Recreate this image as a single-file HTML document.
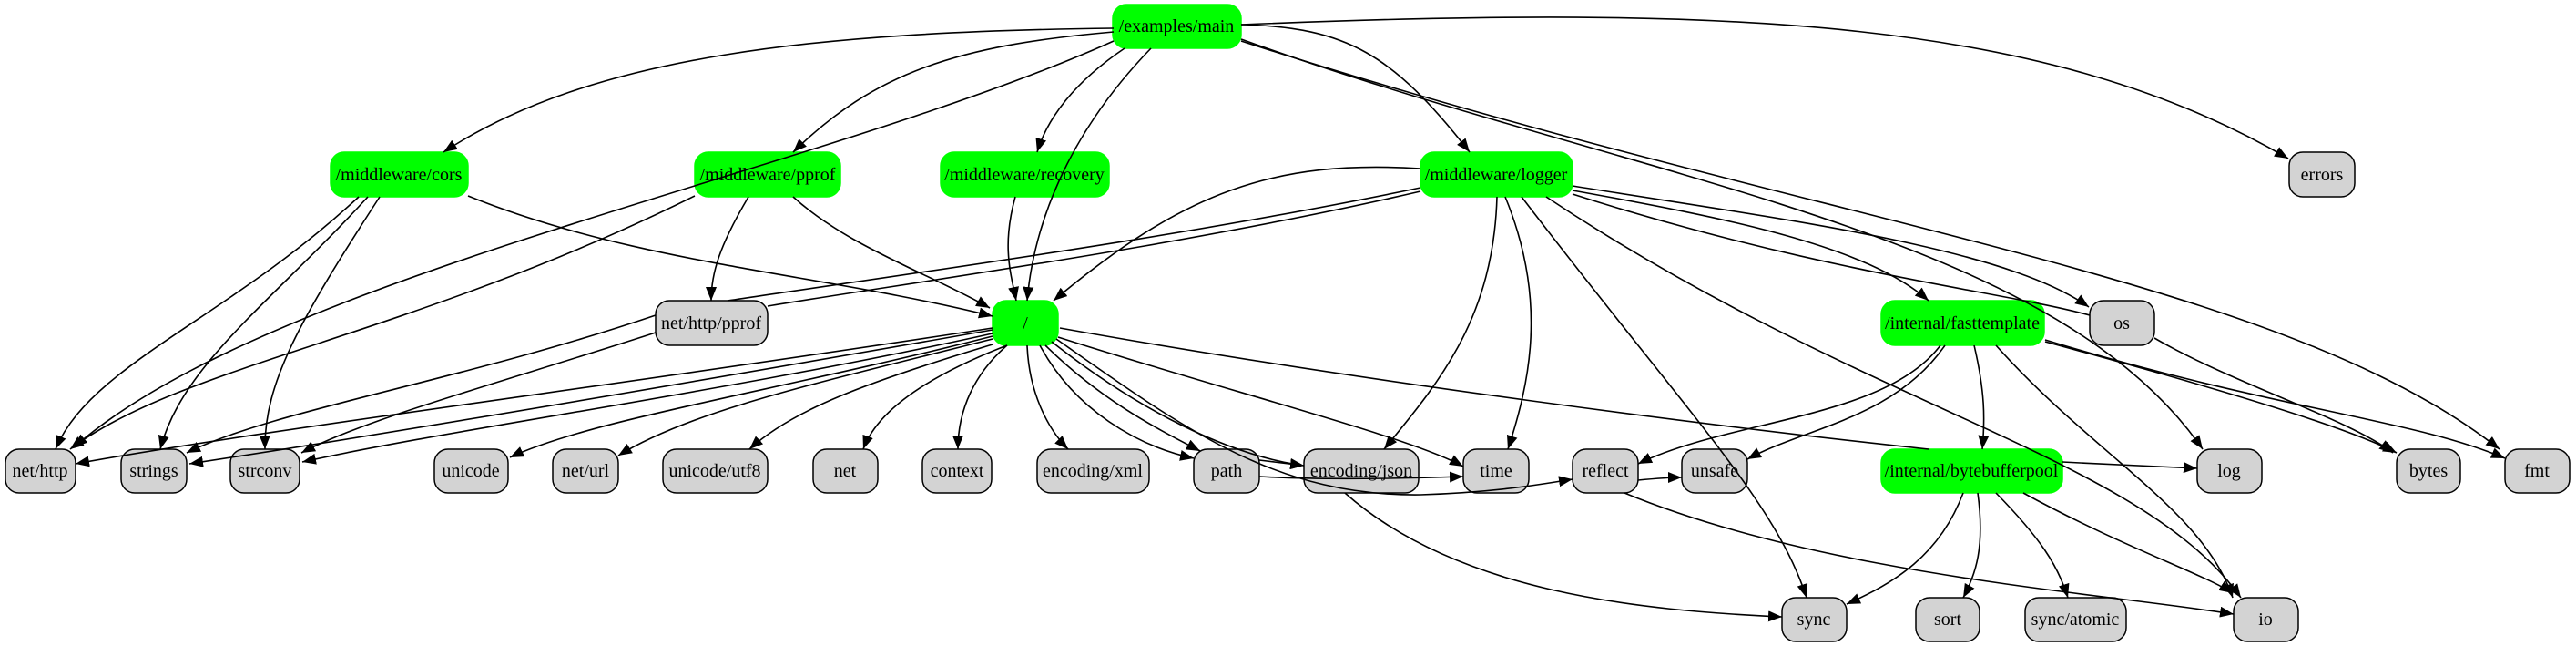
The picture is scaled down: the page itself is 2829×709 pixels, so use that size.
<!DOCTYPE html>
<html><head><meta charset="utf-8"><style>
html,body{margin:0;padding:0;background:#fff;}
svg{display:block;}
text{font-family:"Liberation Serif",serif;font-size:20px;text-anchor:middle;dominant-baseline:central;}
.g{fill:#00ff00;stroke:#00ff00;stroke-width:1.5}
.n{fill:#d3d3d3;stroke:#000;stroke-width:1.5}
.e{fill:none;stroke:#000;stroke-width:1.6;marker-end:url(#a)}
.l{fill:none;stroke:#000;stroke-width:1.6}
</style></head><body>
<svg width="2829" height="709" viewBox="0 0 2829 709" xmlns="http://www.w3.org/2000/svg">
<defs><marker id="a" markerUnits="userSpaceOnUse" markerWidth="16" markerHeight="12" refX="15" refY="6" orient="auto"><path d="M0,0 L15,6 L0,12 Z" fill="#000"/></marker></defs>
<g>
<rect class="g" x="1222" y="5" width="141" height="48" rx="15"/><text x="1292" y="29">/examples/main</text>
<rect class="g" x="363" y="167" width="151" height="49" rx="15"/><text x="438" y="192">/middleware/cors</text>
<rect class="g" x="763" y="167" width="160" height="49" rx="15"/><text x="843" y="192">/middleware/pprof</text>
<rect class="g" x="1033" y="167" width="185" height="49" rx="15"/><text x="1125" y="192">/middleware/recovery</text>
<rect class="g" x="1560" y="167" width="167" height="49" rx="15"/><text x="1643" y="192">/middleware/logger</text>
<rect class="n" x="2514" y="167" width="72" height="49" rx="15"/><text x="2550" y="192">errors</text>
<rect class="n" x="720" y="330" width="123" height="49" rx="15"/><text x="781" y="355">net/http/pprof</text>
<rect class="g" x="1090" y="330" width="72" height="49" rx="15"/><text x="1126" y="355">/</text>
<rect class="g" x="2066" y="330" width="179" height="49" rx="15"/><text x="2155" y="355">/internal/fasttemplate</text>
<rect class="n" x="2295" y="330" width="71" height="49" rx="15"/><text x="2330" y="355">os</text>
<rect class="n" x="6" y="493" width="77" height="48" rx="15"/><text x="44" y="517">net/http</text>
<rect class="n" x="133" y="493" width="72" height="48" rx="15"/><text x="169" y="517">strings</text>
<rect class="n" x="253" y="493" width="76" height="48" rx="15"/><text x="291" y="517">strconv</text>
<rect class="n" x="477" y="493" width="81" height="48" rx="15"/><text x="517" y="517">unicode</text>
<rect class="n" x="607" y="493" width="72" height="48" rx="15"/><text x="643" y="517">net/url</text>
<rect class="n" x="728" y="493" width="115" height="48" rx="15"/><text x="785" y="517">unicode/utf8</text>
<rect class="n" x="893" y="493" width="71" height="48" rx="15"/><text x="928" y="517">net</text>
<rect class="n" x="1013" y="493" width="76" height="48" rx="15"/><text x="1051" y="517">context</text>
<rect class="n" x="1139" y="493" width="123" height="48" rx="15"/><text x="1200" y="517">encoding/xml</text>
<rect class="n" x="1311" y="493" width="72" height="48" rx="15"/><text x="1347" y="517">path</text>
<rect class="n" x="1432" y="493" width="126" height="48" rx="15"/><text x="1495" y="517">encoding/json</text>
<rect class="n" x="1607" y="493" width="72" height="48" rx="15"/><text x="1643" y="517">time</text>
<rect class="n" x="1727" y="493" width="72" height="48" rx="15"/><text x="1763" y="517">reflect</text>
<rect class="n" x="1847" y="493" width="72" height="48" rx="15"/><text x="1883" y="517">unsafe</text>
<rect class="g" x="2066" y="493" width="199" height="48" rx="15"/><text x="2165" y="517">/internal/bytebufferpool</text>
<rect class="n" x="2413" y="493" width="71" height="48" rx="15"/><text x="2448" y="517">log</text>
<rect class="n" x="2632" y="493" width="70" height="48" rx="15"/><text x="2667" y="517">bytes</text>
<rect class="n" x="2751" y="493" width="71" height="48" rx="15"/><text x="2786" y="517">fmt</text>
<rect class="n" x="1957" y="656" width="71" height="48" rx="15"/><text x="1992" y="680">sync</text>
<rect class="n" x="2104" y="656" width="70" height="48" rx="15"/><text x="2139" y="680">sort</text>
<rect class="n" x="2224" y="656" width="111" height="48" rx="15"/><text x="2279" y="680">sync/atomic</text>
<rect class="n" x="2453" y="656" width="71" height="48" rx="15"/><text x="2488" y="680">io</text>
</g>
<g>
<path class="e" d="M1223,31 C900,35 650,60 487,167"/>
<path class="e" d="M1223,45 C900,190 300,300 81,491"/>
<path class="e" d="M1223,35 C1050,50 960,80 871,167"/>
<path class="e" d="M1235,53 C1180,90 1150,130 1139,167"/>
<path class="e" d="M1264,53 C1170,150 1135,250 1128,330"/>
<path class="e" d="M1363,27 C1480,30 1530,60 1614,167"/>
<path class="e" d="M1363,27 C1900,5 2250,20 2513,174"/>
<path class="e" d="M1363,43 C1800,200 2250,250 2419,493"/>
<path class="e" d="M1363,45 C2000,250 2500,300 2745,493"/>
<path class="e" d="M394,216 C250,350 100,400 61,493"/>
<path class="e" d="M404,216 C300,330 200,400 176,493"/>
<path class="e" d="M417,216 C330,350 290,420 291,493"/>
<path class="e" d="M514,215 C700,290 900,300 1090,347"/>
<path class="e" d="M763,215 C450,370 200,400 77,493"/>
<path class="e" d="M822,216 C790,270 781,300 781,330"/>
<path class="e" d="M871,216 C930,270 1020,300 1087,338"/>
<path class="e" d="M1115,216 C1100,270 1110,300 1116,330"/>
<path class="e" d="M1560,185 C1400,175 1300,210 1157,330"/>
<path class="l" d="M1560,206 C1300,260 1000,300 799,330"/>
<path class="l" d="M1560,210 C1300,270 1000,310 843,336"/>
<path class="e" d="M720,346 C500,420 300,450 205,497"/>
<path class="e" d="M720,365 C550,420 400,460 331,497"/>
<path class="e" d="M1090,360 C700,420 300,470 83,509"/>
<path class="e" d="M1090,362 C700,430 400,480 208,509"/>
<path class="e" d="M1090,366 C800,430 500,470 332,507"/>
<path class="e" d="M1090,369 C850,430 650,460 560,502"/>
<path class="e" d="M1090,372 C900,420 760,450 679,500"/>
<path class="e" d="M1090,378 C950,420 870,450 823,493"/>
<path class="e" d="M1106,379 C1000,420 960,460 948,493"/>
<path class="e" d="M1106,379 C1070,410 1052,450 1052,493"/>
<path class="e" d="M1128,379 C1130,430 1150,470 1173,493"/>
<path class="e" d="M1142,379 C1180,450 1250,490 1311,503"/>
<path class="e" d="M1148,379 C1210,440 1270,470 1318,495"/>
<path class="e" d="M1155,375 C1250,450 1350,500 1432,511"/>
<path class="e" d="M1162,370 C1350,430 1550,480 1607,512"/>
<path class="e" d="M1160,372 C1300,470 1400,545 1560,543 C1650,540 1700,530 1727,526"/>
<path class="e" d="M1383,523 C1450,527 1550,525 1607,523"/>
<path class="e" d="M1383,505 C1400,507 1415,509 1432,511"/>
<path class="e" d="M1799,527 C1820,525 1835,524 1847,524"/>
<path class="l" d="M1164,360 C1500,420 1900,470 2118,493"/>
<path class="e" d="M2265,507 C2320,510 2380,512 2413,514"/>
<path class="e" d="M1644,216 C1640,350 1580,420 1520,493"/>
<path class="e" d="M1653,216 C1700,330 1680,420 1656,493"/>
<path class="e" d="M1671,216 C1850,450 1950,550 1984,656"/>
<path class="e" d="M1698,216 C2050,450 2350,500 2461,656"/>
<path class="e" d="M1727,209 C1900,240 2050,270 2118,330"/>
<path class="e" d="M1727,204 C1950,240 2200,270 2294,337"/>
<path class="l" d="M1727,213 C2000,300 2200,320 2295,346"/>
<path class="e" d="M2366,371 C2450,420 2580,460 2628,497"/>
<path class="e" d="M2131,379 C2070,460 1900,460 1799,509"/>
<path class="e" d="M2136,379 C2080,460 1980,470 1919,504"/>
<path class="e" d="M2168,379 C2180,430 2180,460 2177,493"/>
<path class="e" d="M2192,379 C2300,500 2420,560 2452,656"/>
<path class="e" d="M2246,375 C2450,430 2580,470 2632,497"/>
<path class="e" d="M2246,373 C2500,450 2650,460 2751,503"/>
<path class="e" d="M2156,541 C2130,610 2080,640 2028,663"/>
<path class="e" d="M2172,541 C2180,600 2170,630 2156,656"/>
<path class="e" d="M2192,541 C2240,590 2260,620 2271,656"/>
<path class="e" d="M2222,541 C2330,600 2420,630 2452,651"/>
<path class="e" d="M1477,541 C1600,650 1800,670 1957,677"/>
<path class="e" d="M1784,541 C2000,630 2300,650 2453,674"/>
</g>
</svg>
</body></html>
